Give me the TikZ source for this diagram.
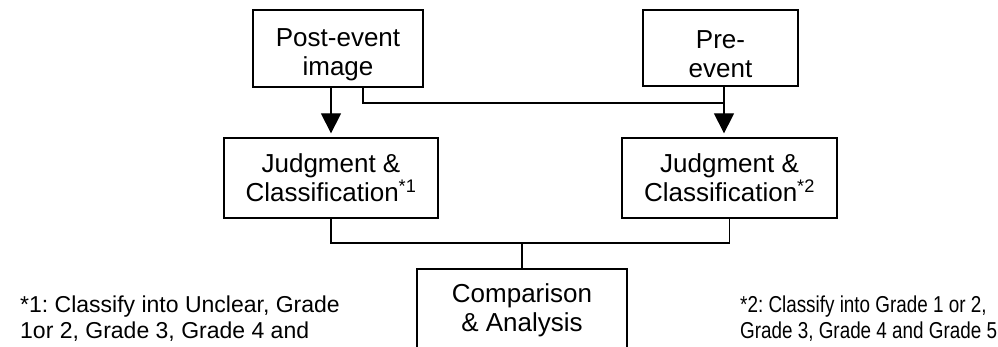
\documentclass[tikz,border=0pt]{standalone}
\usepackage{fontspec}
\setmainfont{Liberation Sans}
\newfontfamily\narrowsans[FakeStretch=0.82]{Liberation Sans}
\usetikzlibrary{arrows.meta}

% taller first line, pushes the text down in the top boxes
\newcommand{\toppad}{\rule{0pt}{31pt}}

\begin{document}
\frenchspacing
\begin{tikzpicture}[x=1pt,y=-1pt,
    box/.style={draw,line width=1.3pt,align=center,inner sep=0pt,
      font=\fontsize{26}{29}\selectfont},
    flow/.style={line width=1.3pt},
    arr/.style={flow,-{Triangle[width=20pt,length=20pt]},shorten >=4pt},
    note/.style={align=left,anchor=west,inner sep=0pt,
      font=\fontsize{23}{26}\selectfont}]

    \useasboundingbox (0,0) rectangle (998,347);

    % images
    \node[box,minimum width=170pt,minimum height=77pt] (post) at (338,48.5) {\toppad Post-event\\image};
    \node[box,minimum width=155pt,minimum height=76pt] (pre) at (720.5,48) {\toppad Pre-\\event};

    % judgment & classification
    \node[box,minimum width=214pt,minimum height=80pt] (judgL) at (331,178) {Judgment \&\\Classification\textsuperscript{*1}};
    \node[box,minimum width=215pt,minimum height=80pt] (judgR) at (729.5,178) {Judgment \&\\Classification\textsuperscript{*2}};

    % comparison (bottom edge falls off the page)
    \node[box,minimum width=210pt,minimum height=82pt] (comp) at (522,310) {Comparison\\\& Analysis};

    %%%%%%%%%%%%%%%%%%%%%%%%%%%%%%%%%%%%%%%%%%%%%%%%%%%%%%%%%

    \coordinate (postout) at (363,87);
    \coordinate (prejoin) at (724,103);
    \coordinate (merge) at (522,243);

    % post-event -> both judgments
    \draw[arr] (post.south -| judgL.north) -- (judgL.north);
    \draw[flow] (postout) |- (prejoin);

    % pre-event -> right judgment
    \draw[arr] (pre.south -| prejoin) -- (judgR.north -| prejoin);

    % judgments -> comparison
    \draw[flow] (judgL.south) |- (merge) -| (judgR.south);
    \draw[flow] (merge) -- (comp.north);

    %%%%%%%%%%%%%%%%%%%%%%%%%%%%%%%%%%%%%%%%%%%%%%%%%%%%%%%%%

    % footnotes
    \node[note] (noteL) at (20,319) {*1: Classify into Unclear, Grade\\1or 2, Grade 3, Grade 4 and};
    \node[note,font=\narrowsans\fontsize{23}{26}\selectfont] (noteR) at (740,319) {*2: Classify into Grade 1 or 2,\\Grade 3, Grade 4 and Grade 5};

\end{tikzpicture}
\end{document}
